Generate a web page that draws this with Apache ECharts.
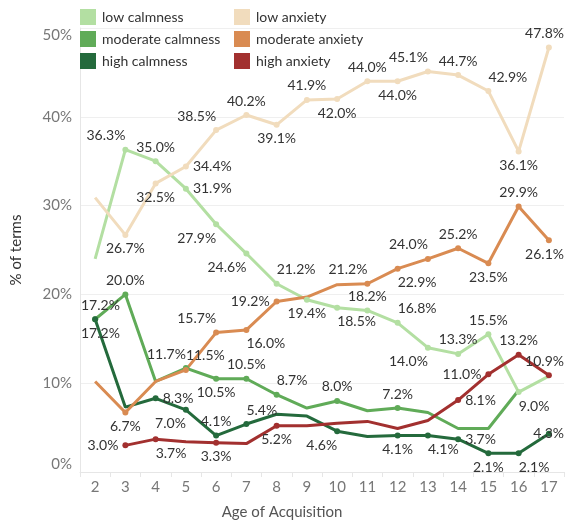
<!DOCTYPE html>
<html><head><meta charset="utf-8">
<script src="https://cdn.jsdelivr.net/npm/echarts@6/dist/echarts.min.js"></script>
<style>html,body{margin:0;padding:0;background:#fff}#c{width:565px;height:525px}</style>
</head><body><div id="c"></div>
<script>
// ---- data ----
const ages = ['2','3','4','5','6','7','8','9','10','11','12','13','14','15','16','17'];
const yTickStep = 10;
const yMax = 50;
const lowCalmness      = [24.0, 36.3, 35.0, 31.9, 27.9, 24.6, 21.2, 19.4, 18.5, 18.2, 16.8, 14.0, 13.3, 15.5, 9.0, 10.8];
const moderateCalmness = [17.2, 20.0, 10.2, 11.7, 10.5, 10.5, 8.7, 7.2, 8.0, 6.9, 7.2, 6.7, 4.9, 4.9, 9.2, null];
const highCalmness     = [17.2, 7.3, 8.3, 7.0, 4.1, 5.4, 6.5, 6.3, 4.6, 4.0, 4.1, 4.1, 3.7, 2.1, 2.1, 4.3];
const lowAnxiety       = [30.9, 26.7, 32.5, 34.4, 38.5, 40.2, 39.1, 41.9, 42.0, 44.0, 44.0, 45.1, 44.7, 42.9, 36.1, 47.8];
const moderateAnxiety  = [10.2, 6.7, 10.2, 11.5, 15.7, 16.0, 19.2, 19.7, 21.1, 21.2, 22.9, 24.0, 25.2, 23.5, 29.9, 26.1];
const highAnxiety      = [null, 3.0, 3.7, 3.4, 3.3, 3.2, 5.2, 5.2, 5.5, 5.7, 4.9, 5.8, 8.1, 11.0, 13.2, 10.9];

// label placement per point ('' = no label)
const lowCalmLabels  = ['', 'tl','t','r','bl','bl','tr','b','br','t','tr','bl','t','t','br',''];
const modCalmLabels  = ['t','t','','tl','b','t','tr','','t','','t','','','','',''];
const highCalmLabels = ['b','','r','bl','t','tr','','','bl','','b','br','r','b','br','r'];
const lowAnxLabels   = ['','b','b','r','tl','t','b','t','b','t','b','tl','t','tr','b','t'];
const modAnxLabels   = ['','b','','tr','tl','br','l','','','tl','br','tl','t','b','t','b'];
const highAnxLabels  = ['','l','br','','b','','b','','','','','','r','l','t','t'];

const seriesDefs = [
  {name:'low calmness', data: lowCalmness, labels: lowCalmLabels, color:'#b3dfa2'},
  {name:'moderate calmness', data: moderateCalmness, labels: modCalmLabels, color:'#60ab58'},
  {name:'high calmness', data: highCalmness, labels: highCalmLabels, color:'#246a3c'},
  {name:'low anxiety', data: lowAnxiety, labels: lowAnxLabels, color:'#f1dcbd'},
  {name:'moderate anxiety', data: moderateAnxiety, labels: modAnxLabels, color:'#d98b52'},
  {name:'high anxiety', data: highAnxiety, labels: highAnxLabels, color:'#a2302f'}
];

const FONT = 'Lato';
function labelFor(code){
  const base = {show:true, color:'#333', fontSize:14, fontFamily:FONT, distance:4,
    formatter: p => p.value.toFixed(1) + '%'};
  switch(code){
    case 't': return Object.assign(base,{position:'top'});
    case 'b': return Object.assign(base,{position:'bottom'});
    case 'l': return Object.assign(base,{position:'left'});
    case 'r': return Object.assign(base,{position:'right'});
    case 'tl': return Object.assign(base,{position:'top', align:'right'});
    case 'tr': return Object.assign(base,{position:'top', align:'left'});
    case 'bl': return Object.assign(base,{position:'bottom', align:'right'});
    case 'br': return Object.assign(base,{position:'bottom', align:'left'});
  }
  return {show:false};
}

const series = seriesDefs.map(d => ({
  name: d.name,
  type: 'line',
  data: d.data.map((v,i) => {
    if (v == null) return null;
    const code = d.labels[i];
    if (!code) return {value: v, symbolSize: 0, label: {show:false}};
    return {value: v, symbolSize: 6, label: labelFor(code)};
  }),
  color: d.color,
  symbol: 'circle',
  showSymbol: true,
  lineStyle: {width: 3, color: d.color},
  itemStyle: {color: d.color},
  emphasis: {disabled: true},
  animation: false,
  labelLayout: function(params){
    const r = params.labelRect;
    if (!r) return {};
    if (r.x + r.width > 564) return {dx: 564 - (r.x + r.width)};
    if (r.x < 81) return {dx: 81 - r.x};
    return {};
  }
}));

const legendCommon = {
  orient:'vertical', top: 9, itemWidth:16, itemHeight:16, itemGap:6, icon:'rect',
  padding:0,
  textStyle:{fontFamily:FONT, fontSize:14, color:'#333', padding:[0,0,0,1]},
  selectedMode:false
};

const chart = echarts.init(document.getElementById('c'), null, {renderer:'canvas'});
chart.setOption({
  animation:false,
  grid:{left:80, right:1, top:28, bottom:52, containLabel:false},
  legend:[
    Object.assign({left:80, data:['low calmness','moderate calmness','high calmness']}, legendCommon),
    Object.assign({left:234, data:['low anxiety','moderate anxiety','high anxiety']}, legendCommon)
  ],
  xAxis:{
    type:'category', data: ages, boundaryGap:true,
    name:'Age of Acquisition', nameLocation:'middle', nameGap:33,
    nameTextStyle:{fontFamily:FONT, fontSize:15, color:'#555', padding:[0,80,0,0]},
    axisLine:{show:true, lineStyle:{color:'#e6e6e6', width:1}},
    axisTick:{show:true, length:5, lineStyle:{color:'#e6e6e6'}, interval:0},
    axisLabel:{fontFamily:FONT, fontSize:15, color:'#777', margin:8, interval:0},
    splitLine:{show:false}
  },
  yAxis:{
    type:'value', min:0, max:yMax, interval:yTickStep,
    name:'% of terms', nameLocation:'middle', nameGap:56, nameRotate:90,
    nameTextStyle:{fontFamily:FONT, fontSize:15, color:'#333'},
    axisLine:{show:true, lineStyle:{color:'#e6e6e6'}},
    axisTick:{show:false},
    axisLabel:{fontFamily:FONT, fontSize:15, color:'#777', margin:8,
      formatter: v => v + '%', verticalAlignMinLabel:'bottom', verticalAlignMaxLabel:'top'},
    splitLine:{show:true, lineStyle:{color:'#efefef', width:1}}
  },
  series: series
});
</script>
</body></html>
